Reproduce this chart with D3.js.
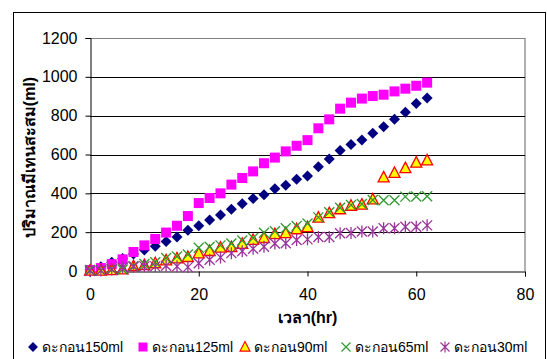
<!DOCTYPE html>
<html><head><meta charset="utf-8">
<script src="https://cdn.jsdelivr.net/npm/d3@7"></script>
<style>body{margin:0;background:#fff}svg{display:block}</style>
</head><body>
<svg id="c" width="547" height="359"></svg>
<script>
const hours = d3.range(0, 63, 2);
const seriesNames = ["ดะกอน150ml","ดะกอน125ml","ดะกอน90ml","ดะกอน65ml","ดะกอน30ml"];
const s150 = [5,22,45,65,88,108,128,152,175,210,233,263,288,318,346,373,393,424,441,472,489,537,577,620,651,675,709,743,781,817,863,891];
const s125 = [5,15,35,60,98,132,165,198,233,283,350,376,400,445,479,513,555,584,616,645,674,735,781,836,867,888,901,908,925,939,954,970];
const s90  = [2,2,5,8,25,30,40,55,65,72,91,103,120,123,140,160,170,190,195,215,226,275,298,318,336,342,369,482,505,530,558,570];
const s65  = [5,3,10,8,26,36,45,67,75,85,120,125,132,142,157,170,197,205,220,232,245,276,303,326,340,345,366,364,364,383,384,385];
const s30  = [0,2,8,18,22,24,24,27,24,20,40,58,70,92,102,115,125,142,143,160,163,175,175,194,196,203,203,220,220,228,228,235];
const xTicks = [0,20,40,60,80];
const yTicks = [0,200,400,600,800,1000,1200];

const svg = d3.select("#c");
const L=90, R=525, T=38, B=271;
const x = d3.scaleLinear().domain([0,80]).range([L,R]);
const y = d3.scaleLinear().domain([0,1200]).range([B,T]);
const font = "'Liberation Sans', Arial, sans-serif";

// outer frame
svg.append("rect").attr("x",13.5).attr("y",12.5).attr("width",532).attr("height",350)
  .attr("fill","none").attr("stroke","#000").attr("stroke-width",1);

// plot border (right gray)
svg.append("line").attr("x1",R).attr("x2",R).attr("y1",T).attr("y2",B).attr("stroke","#b0b0b0").attr("stroke-width",2);

// gridlines
svg.append("g").selectAll("line").data(yTicks.filter(v=>v>0)).join("line")
  .attr("x1",L).attr("x2",R).attr("y1",d=>Math.round(y(d))+0.5).attr("y2",d=>Math.round(y(d))+0.5)
  .attr("stroke",d=>d===1200?"#808080":"#000").attr("stroke-width",1);

// axes
const yAxis = svg.append("g").attr("transform",`translate(${L+0.5},0)`)
  .call(d3.axisLeft(y).tickValues(yTicks).tickSize(5).tickPadding(8).tickFormat(d3.format("d")));
const xAxis = svg.append("g").attr("transform",`translate(0,${B+0.5})`)
  .call(d3.axisBottom(x).tickValues(xTicks).tickSize(5).tickPadding(12).tickFormat(d3.format("d")));
[yAxis,xAxis].forEach(g=>{
  g.selectAll("path").attr("stroke","#000");
  g.selectAll("line").attr("stroke","#000");
  g.selectAll("text").attr("font-family",font).attr("font-size",16).attr("fill","#000");
});

// titles
svg.append("text").attr("transform",`translate(35,${(T+B)/2+3}) rotate(-90)`)
  .attr("text-anchor","middle").attr("font-family",font).attr("font-weight","bold").attr("font-size",16)
  .text("ปริมาณมีเทนสะสม(ml)");
svg.append("text").attr("x",(L+R)/2).attr("y",323).attr("text-anchor","middle")
  .attr("font-family",font).attr("font-weight","bold").attr("font-size",16).text("เวลา(hr)");

// marker drawers
const markers = {
  diamond:(g)=>g.append("path").attr("d","M0,-5.5L5.5,0L0,5.5L-5.5,0Z").attr("fill","#000080"),
  square:(g)=>g.append("rect").attr("x",-5).attr("y",-5).attr("width",10).attr("height",10).attr("fill","#ff00ff"),
  triangle:(g)=>g.append("path").attr("d","M0,-6L5.5,4.5L-5.5,4.5Z").attr("fill","#ffff00").attr("stroke","#ff0000").attr("stroke-width",1.3),
  cross:(g)=>g.append("path").attr("d","M-5,-5L5,5M5,-5L-5,5").attr("stroke","#2f9a2f").attr("stroke-width",1.3).attr("fill","none"),
  star:(g)=>g.append("path").attr("d","M-5,-5L5,5M5,-5L-5,5M0,-6L0,6").attr("stroke","#993399").attr("stroke-width",1.3).attr("fill","none")
};
const series = [
  {vals:s150, m:"diamond"},
  {vals:s125, m:"square"},
  {vals:s90,  m:"triangle"},
  {vals:s65,  m:"cross"},
  {vals:s30,  m:"star"}
];
series.forEach(s=>{
  const g = svg.append("g");
  hours.forEach((h,i)=>{
    const mg = g.append("g").attr("transform",`translate(${x(h)},${y(s.vals[i])})`);
    markers[s.m](mg);
  });
});

// legend
const legX = [33,143,245,346,445];
const leg = svg.append("g");
series.forEach((s,i)=>{
  const mg = leg.append("g").attr("transform",`translate(${legX[i]},347) scale(0.9)`);
  markers[s.m](mg);
  leg.append("text").attr("x",legX[i]+9).attr("y",352).attr("font-family",font).attr("font-size",14)
    .attr("fill","#000").text(seriesNames[i]);
});
</script>
</body></html>
